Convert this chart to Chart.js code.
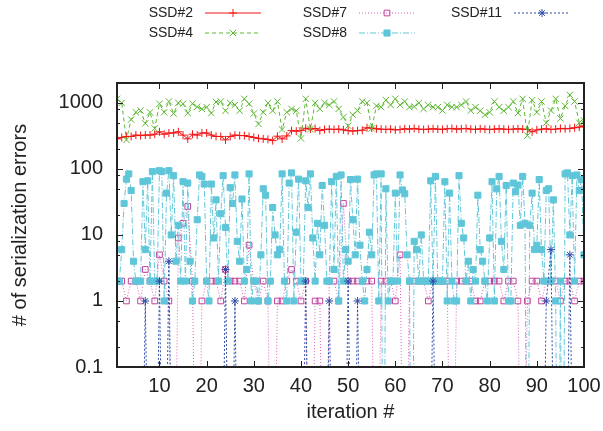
<!DOCTYPE html>
<html>
<head>
<meta charset="UTF-8">
<title>Serialization errors per iteration</title>
<script src="https://cdn.jsdelivr.net/npm/chart.js"></script>
<style>
  body { margin: 0; background: #fff; }
  canvas { display: block; }
</style>
</head>
<body>
<canvas id="grafico" width="603" height="431"></canvas>
<script>
// ---- dados ----
// iteracoes 1..100 (SSD#8 tem duas medidas por iteracao)
const iteracoes = Array.from({ length: 100 }, (_, i) => i + 1);

// 0 = nenhum erro (fica abaixo do eixo log)
const ssd2 = [
  285, 300, 310, 310, 325, 320, 325, 325, 335, 365,
  335, 350, 350, 365, 325, 285, 335, 325, 350, 350,
  325, 310, 310, 275, 310, 325, 320, 320, 310, 300,
  290, 285, 280, 268, 313, 285, 316, 380, 373, 380,
  413, 400, 410, 380, 395, 400, 395, 400, 390, 380,
  375, 380, 385, 420, 415, 405, 400, 395, 400, 390,
  395, 405, 400, 410, 400, 395, 400, 405, 400, 395,
  405, 410, 400, 405, 410, 400, 395, 405, 400, 395,
  400, 405, 400, 395, 400, 405, 400, 395, 365, 390,
  400, 405, 395, 400, 410, 405, 410, 420, 430, 450
];
const ssd4 = [
  1150, 1000, 275, 560, 720, 765, 490, 720, 410, 970,
  720, 1050, 690, 1000, 970, 700, 970, 870, 810, 860,
  700, 1030, 1050, 760, 1000, 930, 760, 1150, 970, 690,
  480, 720, 1000, 760, 1050, 395, 720, 810, 760, 290,
  1150, 400, 1000, 810, 1000, 930, 1050, 810, 610, 450,
  660, 760, 1050, 1000, 410, 900, 860, 1100, 930, 1150,
  930, 1050, 860, 880, 1000, 810, 930, 860, 860, 765,
  930, 860, 860, 930, 1050, 765, 860, 760, 660, 720,
  1050, 860, 760, 860, 1050, 700, 1150, 320, 1100, 720,
  1050, 500, 765, 1150, 580, 900, 1320, 1050, 500, 540
];
const ssd7 = [
  2, 2, 1, 2, 2, 1, 3, 2, 1, 5,
  2, 1, 0, 9, 15, 27, 2, 0, 1, 2,
  2, 2, 1, 3, 2, 2, 2, 1, 7, 2,
  1, 2, 1, 0, 1, 1, 2, 3, 2, 1,
  2, 0, 1, 1, 0, 2, 2, 1, 30, 2,
  2, 2, 2, 2, 2, 0, 2, 2, 2, 1,
  5, 0, 2, 2, 2, 2, 1, 2, 2, 2,
  2, 0, 2, 2, 2, 2, 1, 1, 2, 2,
  2, 2, 1, 2, 2, 1, 0, 1, 2, 2,
  1, 2, 2, 2, 1, 2, 2, 1, 2, 2
];
const ssd8 = [
  2, 2, 6, 30, 70, 84, 47, 4, 2, 2,
  2, 64, 6, 66, 2, 91, 2, 2, 94, 91,
  1, 43, 94, 10, 79, 4, 14, 2, 64, 2,
  61, 4, 1, 2, 17, 81, 77, 59, 2, 1,
  59, 9, 34, 2, 21, 79, 13, 2, 52, 30,
  81, 8, 4, 35, 2, 3, 84, 1, 2, 2,
  1, 5, 50, 40, 1, 2, 26, 10, 5, 6,
  84, 2, 1, 61, 87, 1, 11, 70, 2, 2,
  66, 26, 84, 9, 2, 15, 5, 56, 14, 2,
  2, 64, 3, 77, 1, 81, 2, 6, 4, 69,
  17, 5, 70, 7, 2, 1, 3, 11, 5, 81,
  84, 1, 84, 0, 50, 1, 2, 2, 43, 2,
  81, 48, 42, 5, 2, 0, 8, 6, 2, 10,
  2, 2, 2, 66, 2, 77, 2, 2, 2, 64,
  1, 43, 2, 1, 1, 79, 15, 9, 2, 4,
  1, 3, 2, 40, 6, 4, 2, 1, 9, 64,
  1, 50, 77, 8, 3, 56, 1, 1, 61, 45,
  57, 14, 77, 15, 0, 14, 43, 6, 7, 69,
  6, 2, 47, 50, 2, 34, 1, 0, 2, 0,
  84, 87, 10, 79, 2, 81, 47, 69, 5
];
const ssd11 = [
  0, 0, 0, 0, 0, 0, 1, 0, 0, 2,
  0, 4, 0, 0, 0, 0, 0, 0, 0, 0,
  0, 0, 0, 3, 0, 1, 0, 0, 0, 0,
  0, 0, 0, 0, 0, 0, 0, 0, 0, 0,
  2, 0, 0, 0, 0, 1, 0, 0, 0, 2,
  0, 1, 0, 0, 0, 0, 0, 0, 0, 0,
  0, 0, 0, 0, 0, 0, 0, 2, 0, 0,
  0, 0, 0, 0, 0, 0, 0, 0, 0, 0,
  0, 0, 0, 0, 0, 0, 0, 0, 0, 0,
  0, 1, 6, 0, 0, 0, 5, 0, 0, 0
];

const xTicks = [10, 20, 30, 40, 50, 60, 70, 80, 90, 100];
const yTicks = [0.1, 1, 10, 100, 1000];
const yTickLabels = ['0.1', '1', '10', '100', '1000'];
const yMinor = [0.2, 0.5, 0.8, 2, 5, 8, 20, 50, 80, 200, 500, 800];

// zero nao existe em escala log: desenhado bem abaixo do minimo (cortado)
const ZERO_AT = 0.00001;
function pontos(xs, ys) {
  return ys.map((v, i) => ({ x: xs[i], y: v === 0 ? ZERO_AT : v }));
}
const iteracoesSsd8 = ssd8.map((_, k) => 1 + k / 2);

const fonte = '"Liberation Sans", Arial, Helvetica, sans-serif';
const corTexto = '#222';

// moldura e tracinhos para dentro, estilo gnuplot
const molduraPlugin = {
  id: 'moldura',
  afterDatasetsDraw(chart) {
    const ctx = chart.ctx;
    const { left, right, top, bottom } = chart.chartArea;
    const sx = chart.scales.x, sy = chart.scales.y;
    ctx.save();
    ctx.strokeStyle = corTexto;
    ctx.lineWidth = 1;
    ctx.beginPath();
    xTicks.forEach(v => {
      const px = Math.round(sx.getPixelForValue(v)) + 0.5;
      ctx.moveTo(px, bottom); ctx.lineTo(px, bottom - 6);
      ctx.moveTo(px, top); ctx.lineTo(px, top + 6);
    });
    yTicks.forEach(v => {
      const py = Math.round(sy.getPixelForValue(v)) + 0.5;
      ctx.moveTo(left, py); ctx.lineTo(left + 6, py);
      ctx.moveTo(right, py); ctx.lineTo(right - 6, py);
    });
    yMinor.forEach(v => {
      const py = Math.round(sy.getPixelForValue(v)) + 0.5;
      ctx.moveTo(left, py); ctx.lineTo(left + 3, py);
      ctx.moveTo(right, py); ctx.lineTo(right - 3, py);
    });
    ctx.stroke();
    ctx.lineWidth = 2;
    ctx.strokeRect(left, top, right - left, bottom - top);
    ctx.restore();
  }
};

// legenda em 3 colunas, texto alinhado a direita
const legendaPlugin = {
  id: 'legenda',
  afterDraw(chart) {
    const ctx = chart.ctx;
    const colRight = [193, 347, 502];
    const rowY = [13, 33];
    chart.data.datasets.forEach((ds, i) => {
      const meta = chart.getDatasetMeta(i);
      const linha = meta.dataset.options;
      const ponto = meta.data[0].options;
      const xr = colRight[Math.floor(i / 2)];
      const y = rowY[i % 2];
      ctx.save();
      ctx.font = '14px ' + fonte;
      ctx.fillStyle = corTexto;
      ctx.textAlign = 'right';
      ctx.textBaseline = 'middle';
      ctx.fillText(ds.label, xr, y);
      ctx.strokeStyle = linha.borderColor;
      ctx.lineWidth = 1;
      ctx.setLineDash(linha.borderDash || []);
      ctx.beginPath();
      ctx.moveTo(xr + 12, y);
      ctx.lineTo(xr + 68, y);
      ctx.stroke();
      ctx.setLineDash([]);
      ctx.strokeStyle = ponto.borderColor;
      ctx.fillStyle = ponto.backgroundColor;
      ctx.lineWidth = 1;
      Chart.helpers.drawPoint(ctx, {
        pointStyle: ponto.pointStyle, radius: ponto.radius,
        rotation: 0, borderWidth: 1
      }, xr + 40, y);
      ctx.restore();
    });
  }
};

function serie(label, data, cor, dash, estilo, fundo, ordem, raio, corLinha) {
  return {
    label: label,
    data: data,
    borderColor: corLinha || cor,
    borderWidth: 1,
    borderDash: dash,
    tension: 0,
    fill: false,
    pointStyle: estilo,
    pointRadius: raio,
    pointHoverRadius: raio,
    pointBorderWidth: 1,
    pointBorderColor: cor,
    pointBackgroundColor: fundo,
    order: ordem
  };
}

const dados = {
  datasets: [
    serie('SSD#2', pontos(iteracoes, ssd2), '#f01818', [], 'cross', '#f01818', 5, 4),
    serie('SSD#4', pontos(iteracoes, ssd4), '#5cb832', [4, 3], 'crossRot', '#5cb832', 4, 4.5),
    serie('SSD#7', pontos(iteracoes, ssd7), '#c0409c', [1, 2], 'rect', 'rgba(0,0,0,0)', 3, 4, '#d860b8'),
    serie('SSD#8', pontos(iteracoesSsd8, ssd8), '#5fc6d9', [6, 2, 1, 2], 'rect', '#5fc6d9', 2, 4.3),
    serie('SSD#11', pontos(iteracoes, ssd11), '#2d4aa8', [2, 2], 'star', '#2d4aa8', 1, 4)
  ]
};

const config = {
  type: 'line',
  data: dados,
  plugins: [molduraPlugin, legendaPlugin],
  options: {
    responsive: false,
    animation: false,
    devicePixelRatio: 1,
    layout: { padding: { top: 83, right: 19, left: 0, bottom: 0 } },
    plugins: { legend: { display: false }, tooltip: { enabled: false } },
    scales: {
      x: {
        type: 'linear', min: 1, max: 100, bounds: 'data',
        afterBuildTicks: s => { s.ticks = xTicks.map(v => ({ value: v })); },
        afterFit: s => { s.height = 64; s.paddingLeft = 0; s.paddingRight = 0; },
        ticks: { font: { family: fonte, size: 20 }, color: corTexto, padding: 7, maxRotation: 0, autoSkip: false },
        grid: { display: false, drawTicks: false },
        border: { display: false },
        title: { display: true, text: 'iteration #', color: corTexto,
                 font: { family: fonte, size: 20 }, padding: { top: 0, bottom: 7 } }
      },
      y: {
        type: 'logarithmic', min: 0.1, max: 2000, bounds: 'data',
        afterBuildTicks: s => { s.ticks = yTicks.map(v => ({ value: v })); },
        afterFit: s => { s.width = 117; s.paddingTop = 0; s.paddingBottom = 0; },
        ticks: {
          font: { family: fonte, size: 20 }, color: corTexto, padding: 14, autoSkip: false,
          callback: (v, i) => yTickLabels[i]
        },
        grid: { display: false, drawTicks: false },
        border: { display: false },
        title: { display: true, text: '# of serialization errors', color: corTexto,
                 font: { family: fonte, size: 20 }, padding: { top: 8, bottom: 0 } }
      }
    }
  }
};

new Chart(document.getElementById('grafico').getContext('2d'), config);
</script>
</body>
</html>
